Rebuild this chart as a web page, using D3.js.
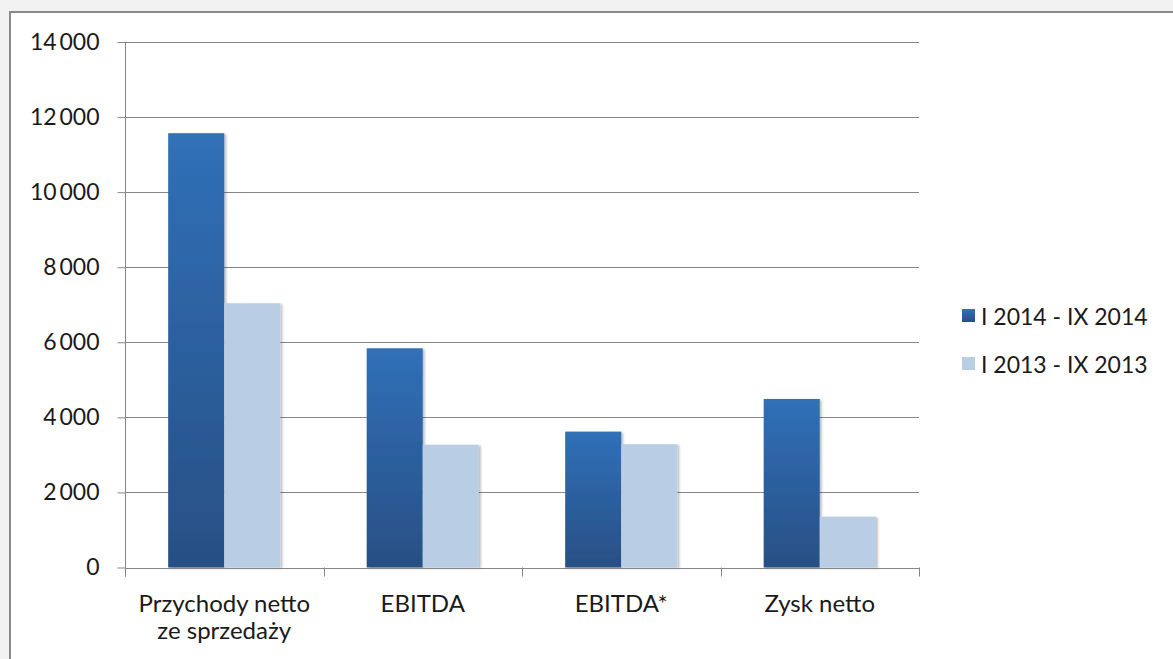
<!DOCTYPE html>
<html><head><meta charset="utf-8">
<script src="https://cdn.jsdelivr.net/npm/d3@7"></script>
<style>
html,body{margin:0;padding:0;background:#f2f2f2;}
svg{display:block;}
text{font-family:Lato,"Open Sans",sans-serif;fill:#1a1a1a;}
</style></head>
<body><svg id="c" width="1173" height="659"></svg>
<script>
const categories = [["Przychody netto","ze sprzedaży"],["EBITDA"],["EBITDA*"],["Zysk netto"]];
const seriesNames = ["I 2014 - IX 2014","I 2013 - IX 2013"];
const values2014 = [11570, 5840, 3620, 4490];
const values2013 = [7040, 3270, 3285, 1355];
const yTicks = [0,2000,4000,6000,8000,10000,12000,14000];

(function(){
const svg = d3.select("#c");
const defs = svg.append("defs");
const g1 = defs.append("linearGradient").attr("id","gDark").attr("x1",0).attr("y1",0).attr("x2",0).attr("y2",1);
g1.append("stop").attr("offset","0%").attr("stop-color","#3070b8");
g1.append("stop").attr("offset","100%").attr("stop-color","#284f84");
const f = defs.append("filter").attr("id","sh").attr("x","-10%").attr("y","-10%").attr("width","130%").attr("height","130%");
f.append("feDropShadow").attr("dx",2).attr("dy",1).attr("stdDeviation",1.2).attr("flood-color","#000").attr("flood-opacity",0.25);

// chart area frame
svg.append("rect").attr("x",10).attr("y",12).attr("width",1175).attr("height",660)
  .attr("fill","#ffffff").attr("stroke","#8a8a8a").attr("stroke-width",2);

const pL=125, pR=919, pT=42, pB=567.5;
const y = d3.scaleLinear().domain([0,14000]).range([pB, pT]);
const x0 = d3.scaleBand().domain(d3.range(categories.length)).range([pL,pR]).paddingInner(0).paddingOuter(0);
const inner = 0.435;
const x1 = d3.scaleBand().domain([0,1]).range([x0.bandwidth()*inner/2, x0.bandwidth()*(1-inner/2)]);

// gridlines
svg.append("g").selectAll("line").data(yTicks.filter(d=>d>0)).join("line")
  .attr("x1",pL).attr("x2",pR).attr("y1",d=>Math.round(y(d))+0.5).attr("y2",d=>Math.round(y(d))+0.5)
  .attr("stroke","#868686").attr("stroke-width",1);

// y axis
const fmt = d => d===0 ? "0" : d3.format(",")(d).replace(/,/g,"\u2009");
const ya = svg.append("g").attr("transform",`translate(${pL+0.5},0)`)
  .call(d3.axisLeft(y).tickValues(yTicks).tickSize(8).tickSizeOuter(0).tickFormat(fmt).tickPadding(18));
ya.select(".domain").remove();
ya.selectAll(".tick line").attr("stroke","#868686");
ya.selectAll("text").attr("font-size",23).attr("font-family","Lato, sans-serif").attr("fill","#1a1a1a");

// bars
const bars = svg.append("g");
const data = categories.map((c,i)=>[values2014[i], values2013[i]]);
data.forEach((pair,i)=>{
  pair.forEach((v,s)=>{
    bars.append("rect")
      .attr("x", x0(i)+x1(s)).attr("width", x1.bandwidth())
      .attr("y", y(v)).attr("height", y(0)-y(v))
      .attr("fill", s===0 ? "url(#gDark)" : "#b9cde5")
      .attr("filter","url(#sh)");
  });
});

// x axis
const xa = svg.append("g");
xa.append("line").attr("x1",pL).attr("x2",pR).attr("y1",Math.round(pB)+0.5).attr("y2",Math.round(pB)+0.5).attr("stroke","#868686");
d3.range(categories.length+1).forEach(i=>{
  const xx = Math.round(pL + i*x0.bandwidth())+0.5;
  xa.append("line").attr("x1",xx).attr("x2",xx).attr("y1",pB).attr("y2",pB+9).attr("stroke","#868686");
});
svg.append("line").attr("x1",pL+0.5).attr("x2",pL+0.5).attr("y1",pT).attr("y2",pB+9).attr("stroke","#868686");

categories.forEach((lines,i)=>{
  const t = svg.append("text").attr("x", x0(i)+x0.bandwidth()/2).attr("y", 611.5)
    .attr("text-anchor","middle").attr("font-size",24);
  lines.forEach((l,k)=>t.append("tspan").attr("x", x0(i)+x0.bandwidth()/2).attr("dy", k===0?0:27).text(l));
});

// legend
const leg = svg.append("g");
seriesNames.forEach((n,i)=>{
  const yy = 316 + i*48;
  leg.append("rect").attr("x",962).attr("y",yy-7).attr("width",13).attr("height",13)
    .attr("fill", i===0 ? "url(#gDark)" : "#b9cde5");
  leg.append("text").attr("x",981).attr("y",yy+9).attr("font-size",23).text(n);
});
})();
</script></body></html>
